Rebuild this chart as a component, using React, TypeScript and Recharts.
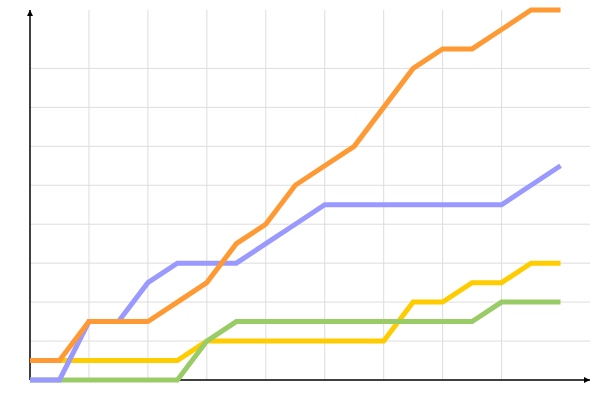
import React from 'react';
import { LineChart, Line, XAxis, YAxis, CartesianGrid } from 'recharts';

const steps = [0, 1, 2, 3, 4, 5, 6, 7, 8, 9, 10, 11, 12, 13, 14, 15, 16, 17, 18];
const orangeValues = [1, 1, 3, 3, 3, 4, 5, 7, 8, 10, 11, 12, 14, 16, 17, 17, 18, 19, 19];
const blueValues = [0, 0, 3, 3, 5, 6, 6, 6, 7, 8, 9, 9, 9, 9, 9, 9, 9, 10, 11];
const yellowValues = [1, 1, 1, 1, 1, 1, 2, 2, 2, 2, 2, 2, 2, 4, 4, 5, 5, 6, 6];
const greenValues = [0, 0, 0, 0, 0, 0, 2, 3, 3, 3, 3, 3, 3, 3, 3, 3, 4, 4, 4];
const xTicks = [0, 2, 4, 6, 8, 10, 12, 14, 16];
const yTicks = [0, 2, 4, 6, 8, 10, 12, 14, 16];
const xGrid = [2, 4, 6, 8, 10, 12, 14, 16];
const yGrid = [2, 4, 6, 8, 10, 12, 14, 16];

const data = steps.map((s, i) => ({
  x: s,
  orange: orangeValues[i],
  blue: blueValues[i],
  yellow: yellowValues[i],
  green: greenValues[i],
}));

const NoTick = () => <g />;

export default function App() {
  return (
    <div style={{ position: 'absolute', left: 0, top: 0 }}>
      <LineChart width={600} height={400} data={data} margin={{ top: 10, right: 10, bottom: 19, left: 29 }}>
        <defs>
          <marker
            id="arrowHead"
            viewBox="0 0 6 6"
            refX="6"
            refY="3"
            markerWidth="6"
            markerHeight="6"
            markerUnits="userSpaceOnUse"
            orient="auto-start-reverse"
          >
            <path d="M0,0 L6,3 L0,6 z" fill="#000" />
          </marker>
        </defs>
        <CartesianGrid stroke="#dddddd" strokeWidth={1} horizontalValues={yGrid} verticalValues={xGrid} />
        <XAxis
          dataKey="x"
          type="number"
          domain={[0, 19]}
          ticks={xTicks}
          tick={<NoTick />}
          tickLine={false}
          height={1}
          zIndex={0}
          axisLine={{ stroke: '#000', strokeWidth: 1.5, markerEnd: 'url(#arrowHead)' }}
        />
        <YAxis
          type="number"
          domain={[0, 19]}
          ticks={yTicks}
          tick={<NoTick />}
          tickLine={false}
          width={1}
          zIndex={0}
          axisLine={{ stroke: '#000', strokeWidth: 1.5, markerStart: 'url(#arrowHead)' }}
        />
        <Line type="linear" dataKey="yellow" stroke="#FFCC00" strokeWidth={5} dot={false} isAnimationActive={false} />
        <Line type="linear" dataKey="green" stroke="#99CC66" strokeWidth={5} dot={false} isAnimationActive={false} />
        <Line type="linear" dataKey="blue" stroke="#9999FF" strokeWidth={5} dot={false} isAnimationActive={false} />
        <Line type="linear" dataKey="orange" stroke="#FF9933" strokeWidth={5} dot={false} isAnimationActive={false} />
      </LineChart>
    </div>
  );
}
